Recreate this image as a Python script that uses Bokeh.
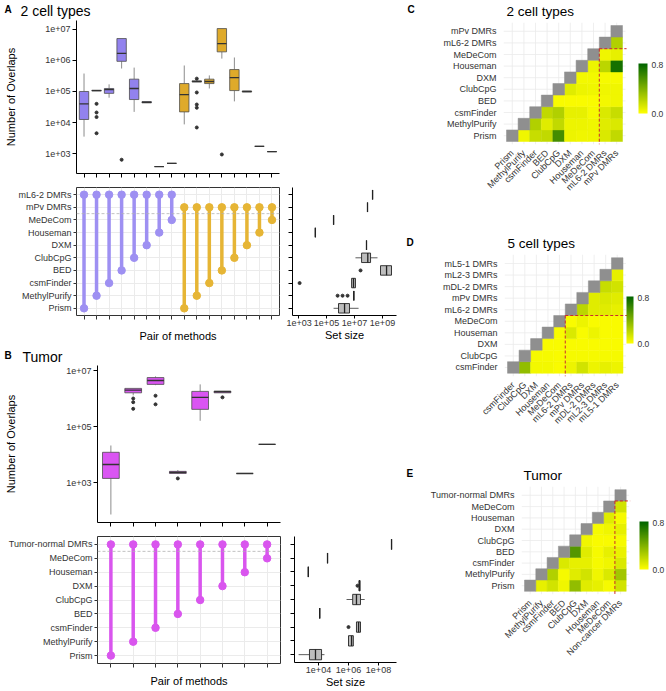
import math
from bokeh.plotting import figure
from bokeh.layouts import row, column
from bokeh.models import (Range1d, FixedTicker, CustomJSTickFormatter, Span,
                          ColorBar, LinearColorMapper, PrintfTickFormatter)
from bokeh.core.properties import value
from bokeh.transform import linear_cmap
from bokeh.embed import file_html
from bokeh.resources import INLINE

FONT = "Liberation Sans"
TXT = "#333333"

# ======================= DATA =======================
# ---- Panel A: 2 cell types, 16 method pairs ----
a_methods = ["Prism", "MethylPurify", "csmFinder", "BED", "ClubCpG", "DXM", "Houseman", "MeDeCom"]
a_rows = ["Prism", "MethylPurify", "csmFinder", "BED", "ClubCpG", "DXM", "Houseman", "MeDeCom",
          "mPv DMRs", "mL6-2 DMRs"]                      # bottom -> top
a_pair_ref = ["mL6-2 DMRs"] * 8 + ["mPv DMRs"] * 8
a_pair_method = a_methods + a_methods
a_group = ["mL6-2"] * 8 + ["mPv"] * 8
a_q1 = [1.25e4, 1.05e5, 8.7e4, 9.4e5, 5.5e4, 4.3e4, 380, 480,
        2.2e4, 2.05e5, 1.8e5, 1.9e6, 1.07e5, 9.7e4, 1.7e3, 1.15e3]
a_med = [4.0e4, 1.07e5, 1.15e5, 1.7e6, 1.25e5, 4.5e4, 380, 480,
         7.9e4, 2.1e5, 2.1e5, 3.5e6, 2.8e5, 1.0e5, 1.7e3, 1.15e3]
a_q3 = [1.0e5, 1.1e5, 1.25e5, 5.1e6, 2.5e5, 4.7e4, 380, 480,
        1.8e5, 2.2e5, 2.5e5, 1.07e7, 5.1e5, 1.03e5, 1.7e3, 1.15e3]
a_lo = [3.5e3, 1.05e5, 6.3e4, 5.5e5, 2.2e4, 4.3e4, 380, 480,
        8.7e3, 2.05e5, 1.25e5, 1.15e6, 4.8e4, 9.7e4, 1.7e3, 1.15e3]
a_hi = [3.8e5, 1.1e5, 1.7e5, 5.1e6, 5.9e5, 4.7e4, 380, 480,
        6.9e5, 2.2e5, 3.3e5, 1.07e7, 1.25e6, 1.03e5, 1.7e3, 1.15e3]
a_out = [[], [4.0e4, 2.1e4, 1.5e4, 4.5e3], [], [630], [], [], [], [],
         [], [2.6e5, 9.3e4, 3.8e4, 3.0e4, 6.9e3], [], [930], [], [], [], []]
# set sizes (rows in a_rows order)
a_set_q1 = [7.2e5, 8.9e6, 6.2e6, 7.2e8, 3.2e7, 7.2e7, 1.6e4, 3.2e5, 8.5e7, 1.95e8]
a_set_med = [1.95e6, 8.9e6, 8.5e6, 1.95e9, 8.9e7, 7.2e7, 1.6e4, 3.2e5, 8.5e7, 1.95e8]
a_set_q3 = [4.4e6, 8.9e6, 1.17e7, 4.4e9, 1.4e8, 7.2e7, 1.6e4, 3.2e5, 8.5e7, 1.95e8]
a_set_lo = [3.2e5, 8.9e6, 5.8e6, 7.2e8, 1.17e7, 7.2e7, 1.6e4, 3.2e5, 8.5e7, 1.95e8]
a_set_hi = [1.95e7, 8.9e6, 1.2e7, 4.4e9, 4.4e8, 7.2e7, 1.6e4, 3.2e5, 8.5e7, 1.95e8]
a_set_out = [[], [6.2e5, 1.4e6, 3.2e6], [1.2e3], [2.7e7], [], [], [], [], [], []]
a_set_ticks = [1e3, 1e5, 1e7, 1e9]

# ---- Panel B: Tumor, 8 method pairs ----
b_rows = ["Prism", "MethylPurify", "csmFinder", "BED", "ClubCpG", "DXM", "Houseman", "MeDeCom",
          "Tumor-normal DMRs"]
b_pair_ref = ["Tumor-normal DMRs"] * 8
b_pair_method = ["Prism", "MethylPurify", "csmFinder", "BED", "ClubCpG", "DXM", "Houseman", "MeDeCom"]
b_q1 = [1.4e3, 1.6e6, 3.2e6, 2.1e3, 4.1e5, 1.6e6, 2.1e3, 2.3e4]
b_med = [4.4e3, 2.0e6, 4.4e6, 2.3e3, 1.1e6, 1.75e6, 2.1e3, 2.3e4]
b_q3 = [1.2e4, 2.3e6, 5.6e6, 2.5e3, 1.8e6, 1.85e6, 2.1e3, 2.3e4]
b_lo = [72, 1.3e6, 3.0e6, 2.0e3, 1.6e5, 1.6e6, 2.1e3, 2.3e4]
b_hi = [2.1e4, 2.3e6, 6.2e6, 2.8e3, 3.2e6, 1.85e6, 2.1e3, 2.3e4]
b_out = [[], [1.0e6, 7.4e5, 4.3e5], [1.26e6, 6.2e5], [1.4e3], [], [1.1e6], [], []]
b_set_q1 = [2.5e3, 1.0e6, 3.4e6, 1.2e4, 1.9e6, 5.0e6, 2.1e3, 4.0e4, 7.4e8]
b_set_med = [6.3e3, 1.6e6, 4.7e6, 1.2e4, 3.4e6, 5.4e6, 2.1e3, 4.0e4, 7.4e8]
b_set_q3 = [1.6e4, 2.1e6, 6.3e6, 1.2e4, 6.3e6, 5.9e6, 2.1e3, 4.0e4, 7.4e8]
b_set_lo = [470, 1.0e6, 3.4e6, 1.2e4, 7.4e5, 5.0e6, 2.1e3, 4.0e4, 7.4e8]
b_set_hi = [2.5e4, 2.1e6, 6.3e6, 1.2e4, 1.2e7, 5.9e6, 2.1e3, 4.0e4, 7.4e8]
b_set_out = [[], [], [1.0e6], [], [], [4.0e6], [], [], []]
b_set_ticks = [1e4, 1e6, 1e8]

# ---- Heatmaps (lower-right triangle; row i holds columns j > i) ----
c_names = ["Prism", "MethylPurify", "csmFinder", "BED", "ClubCpG", "DXM", "Houseman", "MeDeCom",
           "mL6-2 DMRs", "mPv DMRs"]
c_vals = [
    [0.05, 0.18, 0.2, 0.6, 0.06, 0.05, 0.05, 0.12, 0.2],
    [0.25, 0.1, 0.2, 0.06, 0.06, 0.05, 0.1, 0.12],
    [0.2, 0.25, 0.08, 0.08, 0.03, 0.12, 0.18],
    [0.02, 0.02, 0.02, 0.02, 0.04, 0.05],
    [0.1, 0.06, 0.05, 0.05, 0.05],
    [0.04, 0.04, 0.03, 0.03],
    [0.06, 0.22, 0.75],
    [0.05, 0.08],
    [0.25],
]
d_names = ["csmFinder", "ClubCpG", "DXM", "Houseman", "MeDeCom", "mL6-2 DMRs", "mPv DMRs",
           "mDL-2 DMRs", "mL2-3 DMRs", "mL5-1 DMRs"]
d_vals = [
    [0.35, 0.04, 0.04, 0.02, 0.06, 0.15, 0.06, 0.08, 0.06],
    [0.03, 0.03, 0.02, 0.03, 0.03, 0.03, 0.03, 0.03],
    [0.02, 0.02, 0.02, 0.02, 0.02, 0.02, 0.02],
    [0.02, 0.12, 0.02, 0.06, 0.02, 0.02],
    [0.02, 0.06, 0.02, 0.02, 0.02],
    [0.22, 0.1, 0.1, 0.08],
    [0.1, 0.12, 0.1],
    [0.18, 0.15],
    [0.08],
]
e_row_names = ["Prism", "MethylPurify", "csmFinder", "BED", "ClubCpG", "DXM", "Houseman", "MeDeCom",
               "Tumor-normal DMRs"]
e_col_names = ["Prism", "MethylPurify", "csmFinder", "BED", "ClubCpG", "DXM", "Houseman", "MeDeCom",
               "Non-cancer DMRs"]
e_vals = [
    [0.08, 0.15, 0.05, 0.35, 0.1, 0.08, 0.03, 0.15],
    [0.25, 0.03, 0.1, 0.15, 0.05, 0.12, 0.3],
    [0.12, 0.08, 0.08, 0.03, 0.05, 0.12],
    [0.55, 0.1, 0.03, 0.08, 0.07],
    [0.05, 0.02, 0.02, 0.03],
    [0.03, 0.05, 0.08],
    [0.1, 0.03],
    [0.15],
]
heat_low, heat_high = 0.0, 0.82

# ======================= STYLE =======================
PURPLE, PURPLE_BOX = "#9E90F2", "#9282EE"
GOLD, GOLD_BOX = "#E6B535", "#DFAA2A"
MAGENTA, MAGENTA_BOX = "#D955EE", "#DA55F2"
GRID = "#EBEBEB"
LEFT_W, RIGHT_W = 405, 260


def hexlerp(c0, c1, t):
    a = [int(c0[i:i + 2], 16) for i in (1, 3, 5)]
    b = [int(c1[i:i + 2], 16) for i in (1, 3, 5)]
    return "#%02x%02x%02x" % tuple(round(a[k] + (b[k] - a[k]) * t) for k in range(3))


HEAT_PAL = [hexlerp("#FFFF00", "#006400", i / 255) for i in range(256)]


def logfmt():
    return CustomJSTickFormatter(code="""
const e = Math.round(Math.log10(tick));
return "1e" + (e < 0 ? "-" : "+") + String(Math.abs(e)).padStart(2, "0");
""")


def new_fig(width, height, left, right, top, bottom, **kw):
    p = figure(width=width, height=height, toolbar_location=None, output_backend="svg",
               min_border_left=left, min_border_right=right, min_border_top=top,
               min_border_bottom=bottom, frame_align=False, **kw)
    p.outline_line_color = None
    p.background_fill_color = "white"
    p.border_fill_color = "white"
    p.xgrid.visible = False
    p.ygrid.visible = False
    for ax in p.axis:
        ax.major_label_text_font = FONT
        ax.axis_label_text_font = FONT
        ax.axis_label_text_font_style = "normal"
        ax.axis_label_text_color = "black"
        ax.major_label_text_color = TXT
        ax.minor_tick_line_color = None
        ax.major_tick_in = 0
        ax.major_tick_out = 4
        ax.major_tick_line_color = "black"
        ax.axis_line_color = "black"
        ax.major_label_text_font_size = "9px"
        ax.axis_label_text_font_size = "11px"
        ax.major_label_standoff = 2
    return p


def hide_labels(ax):
    ax.major_label_text_color = None
    ax.major_label_standoff = 0


def strip(width, height, items):
    p = figure(width=width, height=height, x_range=Range1d(0, width), y_range=Range1d(height, 0),
               x_axis_location=None, y_axis_location=None, toolbar_location=None,
               output_backend="svg", min_border_left=0, min_border_right=0, min_border_top=0,
               min_border_bottom=0, frame_align=False)
    p.outline_line_color = None
    p.grid.visible = False
    for text, x, y, size, bold in items:
        p.text(x=[x], y=[y], text=[text], text_font=value(FONT), text_font_size=size,
               text_font_style="bold" if bold else "normal", text_align="left",
               text_baseline="middle", text_color="black")
    return p


def draw_vbox(p, q1, med, q3, lo, hi, outs, fills, w=0.75):
    xs = list(range(1, len(q1) + 1))
    p.segment(x0=xs, y0=lo, x1=xs, y1=q1, line_color="#8c8c8c", line_width=1)
    p.segment(x0=xs, y0=q3, x1=xs, y1=hi, line_color="#8c8c8c", line_width=1)
    p.vbar(x=xs, bottom=q1, top=q3, width=w, fill_color=fills, line_color="#4d4d4d",
           line_width=0.8)
    p.segment(x0=[x - w / 2 for x in xs], y0=med, x1=[x + w / 2 for x in xs], y1=med,
              line_color="#333333", line_width=1.3)
    ox = [xs[i] for i, o in enumerate(outs) for _ in o]
    oy = [v for o in outs for v in o]
    p.scatter(x=ox, y=oy, size=3, color="#333333")


def draw_hbox(p, q1, med, q3, lo, hi, outs, h=0.75):
    ys = list(range(len(q1)))
    p.segment(x0=lo, y0=ys, x1=q1, y1=ys, line_color="#333333", line_width=0.8)
    p.segment(x0=q3, y0=ys, x1=hi, y1=ys, line_color="#333333", line_width=0.8)
    p.hbar(y=ys, left=q1, right=q3, height=h, fill_color="#BDBDBD", line_color="#222222",
           line_width=0.9)
    p.segment(x0=med, y0=[y - h / 2 for y in ys], x1=med, y1=[y + h / 2 for y in ys],
              line_color="#222222", line_width=1.3)
    ox = [v for o in outs for v in o]
    oy = [ys[i] for i, o in enumerate(outs) for _ in o]
    p.scatter(x=ox, y=oy, size=3, color="#333333")


def box_fig(width, height, l, r, t, b, ncols, yr, ticks, standoff):
    p = new_fig(width, height, l, r, t, b, y_axis_type="log",
                x_range=Range1d(0.4, ncols + 0.6), y_range=Range1d(*yr))
    p.xaxis.ticker = FixedTicker(ticks=list(range(1, ncols + 1)))
    hide_labels(p.xaxis[0])
    p.yaxis.ticker = FixedTicker(ticks=ticks)
    p.yaxis.formatter = logfmt()
    p.yaxis.axis_label = "Number of Overlaps"
    p.yaxis.axis_label_standoff = standoff
    return p


def matrix_fig(width, height, l, r, t, b, ncols, rows, pair_ref, pair_method, colors, standoff):
    n = len(rows)
    p = new_fig(width, height, l, r, t, b, x_range=Range1d(0.4, ncols + 0.6),
                y_range=Range1d(-0.57, n - 1 + 0.57))
    p.outline_line_color = "#333333"
    p.xgrid.visible = True
    p.ygrid.visible = True
    p.xgrid.grid_line_color = GRID
    p.ygrid.grid_line_color = GRID
    p.xgrid.ticker = FixedTicker(ticks=list(range(1, ncols + 1)))
    p.ygrid.ticker = FixedTicker(ticks=list(range(n)))
    p.xaxis.ticker = FixedTicker(ticks=list(range(1, ncols + 1)))
    hide_labels(p.xaxis[0])
    p.xaxis.axis_line_color = None
    p.xaxis.major_tick_line_color = "#333333"
    p.xaxis.axis_label = "Pair of methods"
    p.xaxis.axis_label_standoff = standoff
    p.yaxis.ticker = FixedTicker(ticks=list(range(n)))
    p.yaxis.major_label_overrides = {i: name for i, name in enumerate(rows)}
    p.yaxis.axis_line_color = None
    p.yaxis.major_tick_out = 3
    p.yaxis.major_tick_line_color = "#333333"
    split = rows.index("MeDeCom") + 0.5
    p.add_layout(Span(location=split, dimension="width", line_color="#b3b3b3",
                      line_dash="3 2", line_width=0.8))
    xs = list(range(1, ncols + 1))
    y_ref = [rows.index(r) for r in pair_ref]
    y_m = [rows.index(m) for m in pair_method]
    p.segment(x0=xs, y0=y_m, x1=xs, y1=y_ref, line_color=colors, line_width=3.5)
    p.scatter(x=xs + xs, y=y_m + y_ref, size=7.5, color=colors + colors)
    return p


def set_fig(width, height, l, r, t, b, rows, xr, ticks, data, standoff):
    n = len(rows)
    p = new_fig(width, height, l, r, t, b, x_axis_type="log", x_range=Range1d(*xr),
                y_range=Range1d(-0.57, n - 1 + 0.57))
    p.yaxis.ticker = FixedTicker(ticks=list(range(n)))
    hide_labels(p.yaxis[0])
    p.xaxis.ticker = FixedTicker(ticks=ticks)
    p.xaxis.formatter = logfmt()
    p.xaxis.axis_label = "Set size"
    p.xaxis.axis_label_standoff = standoff
    p.xaxis.major_tick_out = 3
    p.xaxis.major_label_standoff = 1
    draw_hbox(p, *data)
    return p


def heat_fig(fig_y0, height, tiles_left, frame_top, cell, xnames, ynames, vals, cb):
    n = len(ynames)
    fig_x0, frame_right = LEFT_W, LEFT_W + RIGHT_W
    frame_left = round(tiles_left - 3)
    frame_h = round(n * cell + 6)
    fw = frame_right - frame_left
    pad_y = (frame_h / cell - n) / 2
    x0 = -0.5 - (tiles_left - frame_left) / cell
    yr = (-0.5 - pad_y, n - 0.5 + pad_y)
    mbl = frame_left - fig_x0
    p = new_fig(RIGHT_W, height, mbl, RIGHT_W - mbl - fw, frame_top, height - frame_top - frame_h,
                x_range=Range1d(x0, x0 + fw / cell), y_range=Range1d(*yr))
    for ax in p.axis:
        ax.axis_line_color = None
        ax.major_tick_line_color = None
        ax.major_label_standoff = 3
    p.xaxis.ticker = FixedTicker(ticks=list(range(len(xnames))))
    p.xaxis.major_label_overrides = {i: s for i, s in enumerate(xnames)}
    p.xaxis.major_label_orientation = math.pi / 4
    p.yaxis.ticker = FixedTicker(ticks=list(range(n)))
    p.yaxis.major_label_overrides = {i: s for i, s in enumerate(ynames)}
    # panel grid
    right_edge = n - 0.5 + 3 / cell
    p.segment(x0=list(range(n)), y0=[yr[0]] * n, x1=list(range(n)), y1=[yr[1]] * n,
              line_color=GRID, line_width=0.8)
    p.segment(x0=[x0] * n, y0=list(range(n)), x1=[right_edge] * n, y1=list(range(n)),
              line_color=GRID, line_width=0.8)
    # tiles
    tx, ty, tv = [], [], []
    for i, rv in enumerate(vals):
        for k, v in enumerate(rv):
            tx.append(i + 1 + k)
            ty.append(i)
            tv.append(v)
    cmap = linear_cmap("v", HEAT_PAL, heat_low, heat_high)
    p.rect(x="x", y="y", width=1, height=1, source=dict(x=tx, y=ty, v=tv),
           fill_color=cmap, line_color=cmap, line_width=0.5)
    diag = list(range(n))
    p.rect(x=diag, y=diag, width=1, height=1, fill_color="#8f8f8f", line_color="#8f8f8f",
           line_width=0.5)
    # reference block separator
    k = xnames.index("MeDeCom") + 0.5
    p.segment(x0=[k, k], y0=[k, k], x1=[k, n - 0.5 + 0.35], y1=[yr[0], k],
              line_color="#cc2a2a", line_width=1, line_dash="3 2")
    # colour bar (page coordinates of the bar -> offsets from the frame)
    cbx, cby, cbw, cbh = cb
    frame_bottom_page = fig_y0 + frame_top + frame_h
    p.add_layout(ColorBar(color_mapper=LinearColorMapper(palette=HEAT_PAL, low=heat_low,
                                                         high=heat_high),
                          location=(cbx - frame_left, frame_bottom_page - (cby + cbh)),
                          width=cbw, height=cbh, padding=0, margin=0,
                          ticker=FixedTicker(ticks=[0.0, 0.8]),
                          formatter=PrintfTickFormatter(format="%.1f"),
                          major_label_text_font=FONT, major_label_text_font_size="8.5px",
                          major_label_text_color=TXT, major_tick_line_color=None,
                          minor_tick_line_color=None, bar_line_color=None,
                          border_line_color=None, background_fill_alpha=0, label_standoff=4))
    return p


# ======================= PANEL A =======================
a_colors = [PURPLE if g == "mL6-2" else GOLD for g in a_group]
a_fills = [PURPLE_BOX if g == "mL6-2" else GOLD_BOX for g in a_group]
a_title = strip(LEFT_W, 19, [("A", 4, 9, "10px", True), ("2 cell types", 20, 10, "14px", False)])
a_box = box_fig(LEFT_W, 168, 76, LEFT_W - 76 - 203, 1, 14, 16, (10 ** 2.355, 10 ** 7.29),
                [1e3, 1e4, 1e5, 1e6, 1e7], 25)
draw_vbox(a_box, a_q1, a_med, a_q3, a_lo, a_hi, a_out, a_fills)
a_mat = matrix_fig(286, 159, 76, 7, 0, 31, 16, a_rows, a_pair_ref, a_pair_method, a_colors, 10)
a_set = set_fig(LEFT_W - 286, 159, 6, LEFT_W - 286 - 6 - 104, 0, 31, a_rows,
                (10 ** 2.571, 10 ** 10.0), a_set_ticks,
                (a_set_q1, a_set_med, a_set_q3, a_set_lo, a_set_hi, a_set_out), 0)

# ======================= PANEL B =======================
b_colors = [MAGENTA] * 8
b_fills = [MAGENTA_BOX] * 8
b_title = strip(LEFT_W, 18, [("B", 4, 9, "10px", True), ("Tumor", 22, 10, "14px", False)])
b_box = box_fig(LEFT_W, 172, 97, LEFT_W - 97 - 183, 1, 14, 8, (10 ** 1.571, 10 ** 7.18),
                [1e3, 1e5, 1e7], 46)
draw_vbox(b_box, b_q1, b_med, b_q3, b_lo, b_hi, b_out, b_fills)
b_mat = matrix_fig(287, 154, 97, 7, 0, 27, 8, b_rows, b_pair_ref, b_pair_method, b_colors, 7)
b_set = set_fig(LEFT_W - 287, 154, 7, LEFT_W - 287 - 7 - 102, 0, 27, b_rows,
                (10 ** 2.4, 10 ** 9.2), b_set_ticks,
                (b_set_q1, b_set_med, b_set_q3, b_set_lo, b_set_hi, b_set_out), 0)

# ======================= PANELS C, D, E =======================
c_title = strip(RIGHT_W, 20, [("C", 2, 9, "10px", True), ("2 cell types", 101, 11, "13.5px", False)])
c_fig = heat_fig(20, 212, 506, 2, 11.6, c_names, c_names, c_vals, (638, 63, 9, 50))
d_title = strip(RIGHT_W, 20, [("D", 1, 10, "10px", True), ("5 cell types", 102, 11, "13.5px", False)])
d_fig = heat_fig(252, 214, 507, 2, 11.55, d_names, d_names, d_vals, (626, 296, 7, 47))
e_title = strip(RIGHT_W, 19, [("E", 1, 7, "10px", True), ("Tumor", 118, 9, "13.5px", False)])
e_fig = heat_fig(485, 205, 524, 1, 11.3, e_col_names, e_row_names, e_vals, (639, 521, 9, 48))

left = column(a_title, a_box, row(a_mat, a_set), b_title, b_box, row(b_mat, b_set))
right = column(c_title, c_fig, d_title, d_fig, e_title, e_fig)
layout = row(left, right)

open("out.html", "w").write(file_html(layout, INLINE, "DMR overlaps"))
